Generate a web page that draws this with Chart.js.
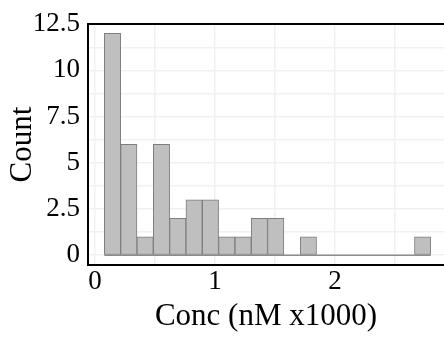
<!DOCTYPE html>
<html>
<head>
<meta charset="utf-8">
<script src="https://cdn.jsdelivr.net/npm/chart.js@4/dist/chart.umd.min.js"></script>
<style>
  body { margin: 0; background: #fff; }
  #wrap { width: 444px; height: 337px; }
</style>
</head>
<body>
<div id="wrap"><canvas id="myChart" width="444" height="337"></canvas></div>
<script>
// Histogram bins (centres in nM x1000) and counts
const binCenters = [0.146, 0.282, 0.418, 0.554, 0.690, 0.826, 0.962, 1.098, 1.234, 1.370,
                    1.506, 1.642, 1.778, 1.914, 2.050, 2.186, 2.322, 2.458, 2.594, 2.730];
const counts = [12, 6, 1, 6, 2, 3, 3, 1, 1, 2, 2, 0, 1, 0, 0, 0, 0, 0, 0, 1];
const baseLine = [0.078, 2.798];   // bottom edge of the histogram bins

// Ticks (gridlines) and which of them get a label
const xTicks = [0, 0.5, 1, 1.5, 2, 2.5];
const xLabels = [0, 1, 2];
const yTicks = [0, 1.25, 2.5, 3.75, 5, 6.25, 7.5, 8.75, 10, 11.25, 12.5];
const yLabels = [0, 2.5, 5, 7.5, 10, 12.5];

const serif = 'Liberation Serif';
const gridColor = '#f1f1f1';

const ctx = document.getElementById('myChart').getContext('2d');
const chart = new Chart(ctx, {
    type: 'bar',
    data: {
        datasets: [{
            type: 'bar',
            data: binCenters.map((x, i) => ({ x: x, y: counts[i] })),
            backgroundColor: 'rgb(191, 191, 191)',
            borderColor: 'rgb(125, 125, 125)',
            borderWidth: 1,
            borderSkipped: false,
            barPercentage: 1,
            categoryPercentage: 1
        }, {
            type: 'line',
            data: baseLine.map(x => ({ x: x, y: 0 })),
            borderColor: 'rgb(140, 140, 140)',
            borderWidth: 1.5,
            pointRadius: 0
        }]
    },
    options: {
        responsive: false,
        animation: false,
        events: [],
        layout: { padding: 0 },
        plugins: {
            legend: { display: false },
            tooltip: { enabled: false }
        },
        scales: {
            x: {
                type: 'linear',
                position: 'bottom',
                offset: false,
                min: -0.058,
                max: 2.908,
                afterBuildTicks: s => { s.ticks = xTicks.map(v => ({ value: v })); },
                afterFit: s => { s.height = 72; },
                ticks: {
                    autoSkip: false,
                    maxRotation: 0,
                    padding: 1,
                    color: '#000',
                    font: { family: serif, size: 27 },
                    callback: v => xLabels.includes(v) ? String(v) : ''
                },
                grid: { color: gridColor, lineWidth: 1.5, drawTicks: false, offset: false },
                border: { color: '#000', width: 2 },
                title: {
                    display: true,
                    text: 'Conc (nM x1000)',
                    color: '#000',
                    font: { family: serif, size: 31 },
                    padding: { top: 0, bottom: 2 }
                }
            },
            x2: {
                type: 'linear',
                position: 'top',
                offset: false,
                min: -0.058,
                max: 2.908,
                afterFit: s => { s.height = 21; },
                ticks: { display: false },
                grid: { display: false, drawTicks: false },
                border: { color: '#000', width: 2 }
            },
            y: {
                min: -0.53,
                max: 12.5,
                afterBuildTicks: s => { s.ticks = yTicks.map(v => ({ value: v })); },
                afterFit: s => { s.width = 88; },
                ticks: {
                    autoSkip: false,
                    padding: 8,
                    color: '#000',
                    font: { family: serif, size: 27 },
                    callback: v => yLabels.includes(v) ? String(v) : ''
                },
                grid: { color: gridColor, lineWidth: 1.5, drawTicks: false },
                border: { color: '#000', width: 2 },
                title: {
                    display: true,
                    text: 'Count',
                    color: '#000',
                    font: { family: serif, size: 31 },
                    padding: { top: 4, bottom: 0 }
                }
            }
        }
    }
});
</script>
</body>
</html>
